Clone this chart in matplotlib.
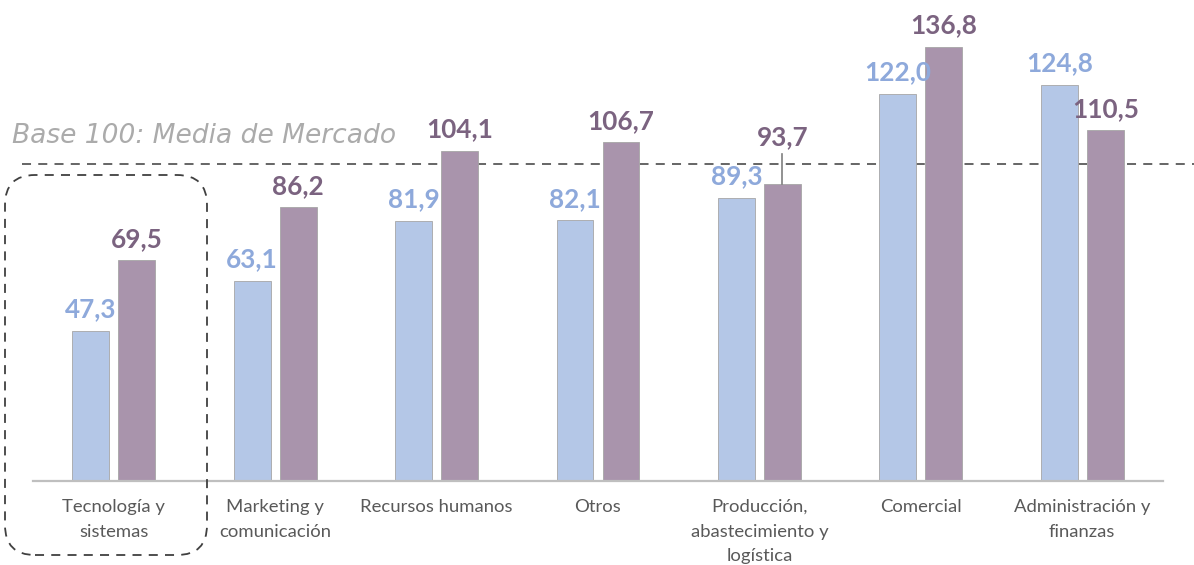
import matplotlib
matplotlib.use("Agg")
import matplotlib.pyplot as plt
from matplotlib.patches import FancyBboxPatch
from matplotlib.transforms import IdentityTransform
import numpy as np

categories = ["Tecnología y\nsistemas", "Marketing y\ncomunicación", "Recursos humanos", "Otros",
              "Producción,\nabastecimiento y\nlogística", "Comercial", "Administración y\nfinanzas"]
serie_a = [47.3, 63.1, 81.9, 82.1, 89.3, 122.0, 124.8]
serie_b = [69.5, 86.2, 104.1, 106.7, 93.7, 136.8, 110.5]
base_value = 100
base_label = "Base 100: Media de Mercado"

W, H = 1194, 565
fig = plt.figure(figsize=(W / 100, H / 100), dpi=100)
ax_left, ax_right, base_y = 33, 1163, 481
ax = fig.add_axes([ax_left / W, (H - base_y) / H, (ax_right - ax_left) / W, base_y / H])

blue, purple = "#B4C7E7", "#A994AC"
blue_txt, purple_txt = "#8EA9DB", "#7B6380"
x = np.arange(len(categories))
bw, off = 0.229, 0.1425
ax.bar(x - off, serie_a, bw, color=blue, edgecolor="#A6A6A6", linewidth=0.6, zorder=2)
ax.bar(x + off, serie_b, bw, color=purple, edgecolor="#A6A6A6", linewidth=0.6, zorder=2)

ax.set_xlim(-0.5, len(categories) - 0.5)
ax.set_ylim(0, base_y / 3.173)

def fmt(v):
    return f"{v:.1f}".replace(".", ",")

lab_font = dict(family="Lato", fontsize=18.8, fontweight="bold")
for i, (a, b) in enumerate(zip(serie_a, serie_b)):
    ax.annotate(fmt(a), (x[i] - off, a), xytext=(0, 7), textcoords="offset points",
                ha="center", va="bottom", color=blue_txt, **lab_font)
    if i == 4:
        ax.plot([x[i] + off, x[i] + off], [b, b + 9.5], color="#7F7F7F", lw=1.2, zorder=3)
        ax.annotate(fmt(b), (x[i] + off, b + 9.5), xytext=(0, 3), textcoords="offset points",
                    ha="center", va="bottom", color=purple_txt, **lab_font)
    else:
        ax.annotate(fmt(b), (x[i] + off, b), xytext=(0, 7), textcoords="offset points",
                    ha="center", va="bottom", color=purple_txt, **lab_font)

# base line
ax.axhline(base_value, xmin=(22 - ax_left) / (ax_right - ax_left), xmax=(W - ax_left) / (ax_right - ax_left),
           color="#595959", lw=1.3, dashes=(5, 4), clip_on=False, zorder=1)
fig.text(12 / W, 1 - 143 / H, base_label, family="DejaVu Sans", style="italic", fontsize=19.1,
         color="#ABABAB", ha="left", va="baseline")

for s in ["top", "right", "left"]:
    ax.spines[s].set_visible(False)
ax.spines["bottom"].set_color("#BFBFBF")
ax.spines["bottom"].set_linewidth(1.6)
ax.set_yticks([])
ax.set_xticks(x)
ax.set_xticklabels(categories, family="Lato", fontsize=13.3, color="#595959", linespacing=1.66, va="top")
ax.tick_params(axis="x", length=0, pad=13)

# rounded dashed box around first category (pixel coordinates, origin bottom-left)
bx0, bx1, by_top, by_bot = 5, 207, 175, 555
box = FancyBboxPatch((bx0, H - by_bot), bx1 - bx0, by_bot - by_top,
                     boxstyle="round,pad=0,rounding_size=30", transform=IdentityTransform(),
                     fill=False, edgecolor="#404040", lw=1.3, linestyle=(0, (5, 4)), clip_on=False)
fig.patches.append(box)

fig.savefig("out.png", dpi=100)
